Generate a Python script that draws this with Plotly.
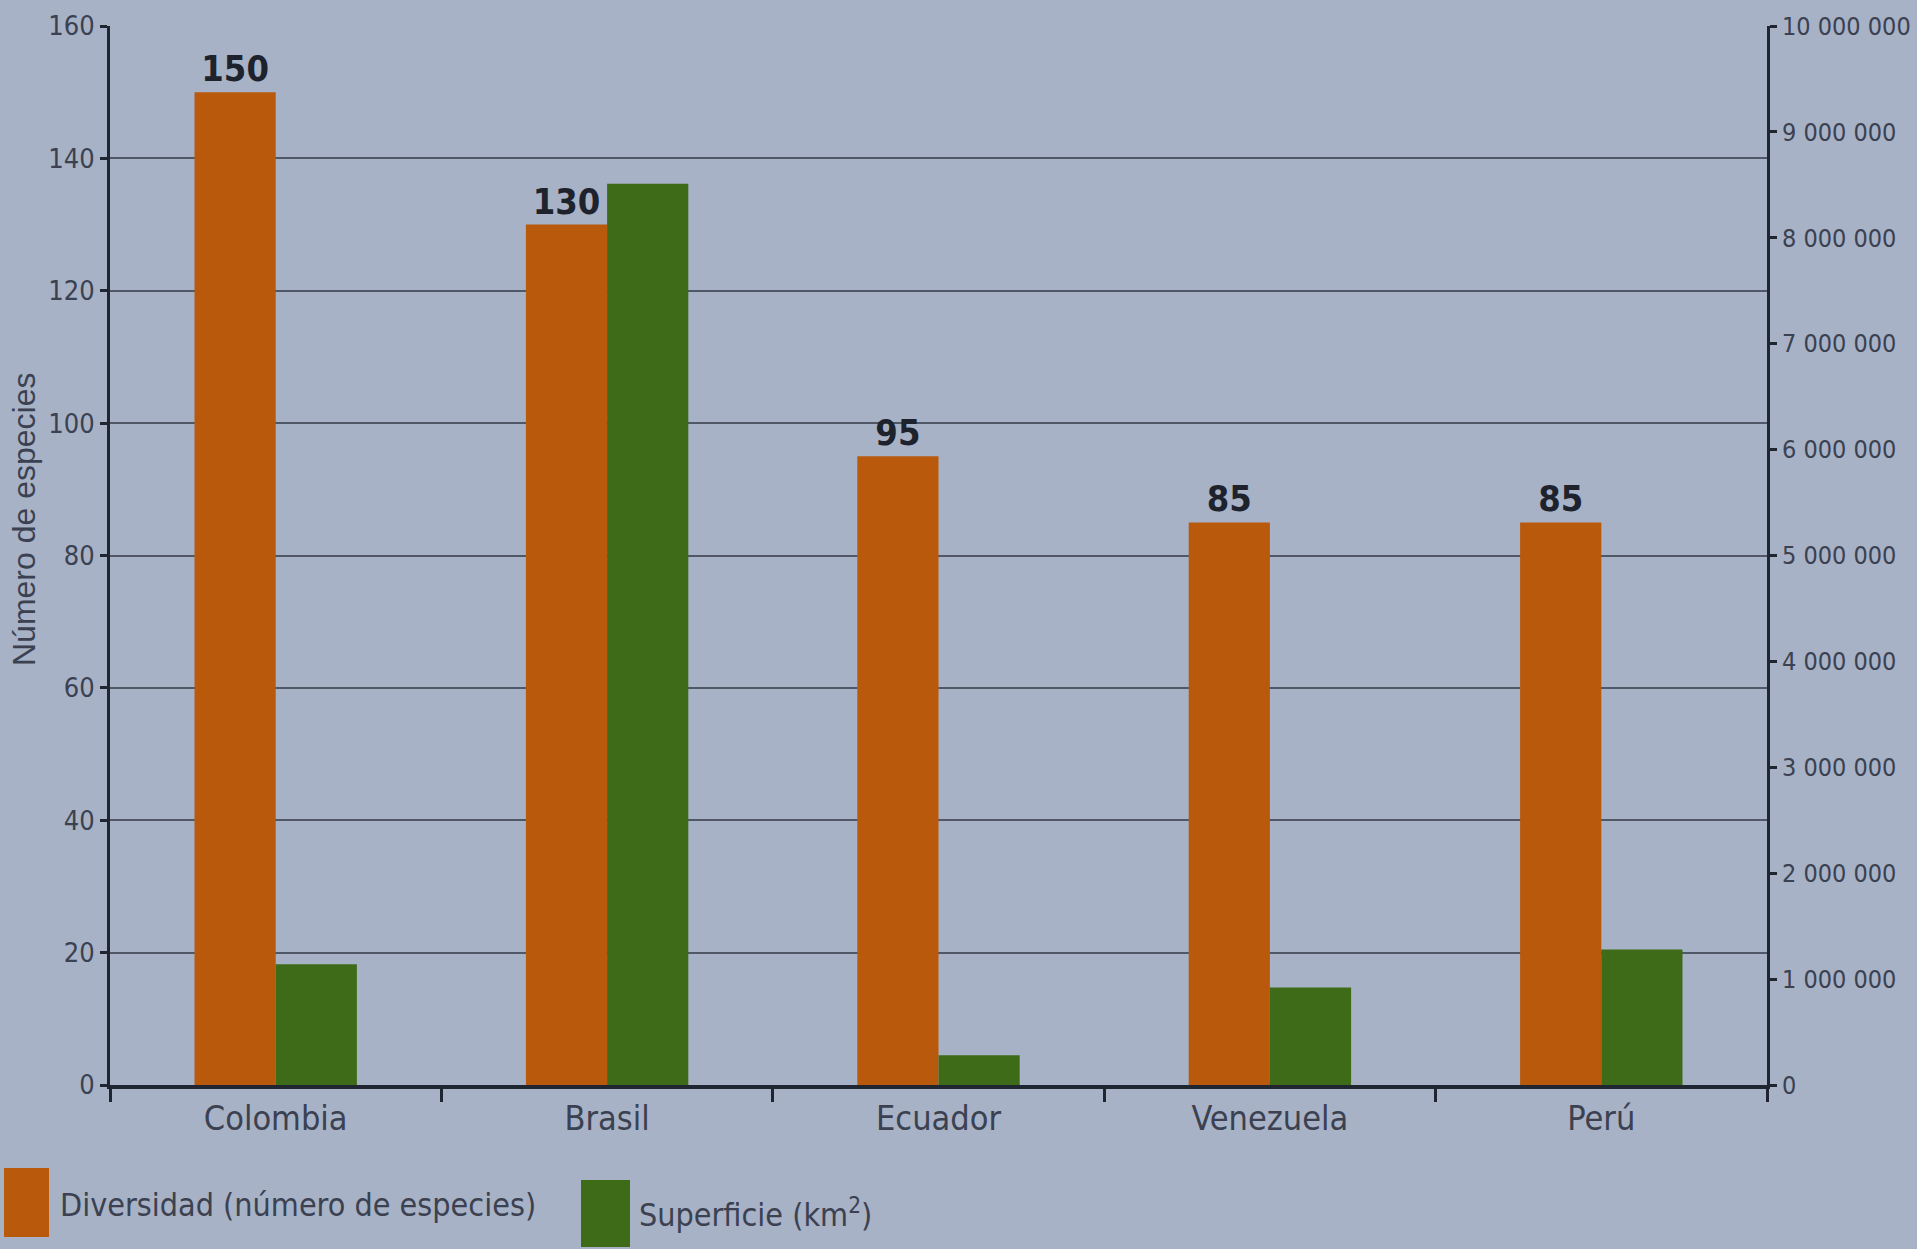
import plotly.graph_objects as go

# ---- data ----
paises = ["Colombia", "Brasil", "Ecuador", "Venezuela", "Perú"]
diversidad = [150, 130, 95, 85, 85]
superficie = [1140000, 8510000, 280000, 920000, 1280000]
ticks_izq = [0, 20, 40, 60, 80, 100, 120, 140, 160]
ticks_der = [0, 1000000, 2000000, 3000000, 4000000, 5000000,
             6000000, 7000000, 8000000, 9000000, 10000000]
titulo_y = "Número de especies"
nombre_div = "Diversidad (número de especies)"
nombre_sup = "Superficie (km<sup>2</sup>)"

# ---- style ----
W, H = 1917, 1249
ML, MR, MT, MB = 110, 150, 26, 164
PW, PH = W - ML - MR, H - MT - MB
NARROW = "DejaVu Sans Condensed, Liberation Sans Narrow, Arial Narrow, sans-serif"
SANS = "Liberation Sans, Arial, sans-serif"
ORANGE = "#b9590c"
GREEN = "#3e6b17"
BG = "#a7b2c6"
AXC = "#1f2531"
GRID = "#505868"
TXT = "#3b4150"


def px_x(p):
    return (p - ML) / PW


def px_y(p):
    return (H - MB - p) / PH


fig = go.Figure()
fig.add_trace(go.Bar(
    x=paises, y=diversidad, name="Diversidad (número de especies)",
    marker=dict(color=ORANGE, line=dict(width=0)),
    width=0.245, offset=-0.245,
    text=[str(v) for v in diversidad], textposition="outside",
    outsidetextfont=dict(family=NARROW, size=36, color="#1d222c", weight="bold"),
    cliponaxis=False, yaxis="y", hoverinfo="x+y",
))
fig.add_trace(go.Bar(
    x=paises, y=superficie, name="Superficie (km²)",
    marker=dict(color=GREEN, line=dict(width=0)),
    width=0.245, offset=0.0, yaxis="y2", hoverinfo="x+y",
))

shapes = [
    dict(type="rect", xref="paper", yref="paper",
         x0=px_x(4), x1=px_x(49), y0=px_y(1237), y1=px_y(1168),
         fillcolor=ORANGE, line=dict(width=0)),
    dict(type="rect", xref="paper", yref="paper",
         x0=px_x(581), x1=px_x(630), y0=px_y(1247), y1=px_y(1180),
         fillcolor=GREEN, line=dict(width=0)),
]
annotations = [
    dict(text=nombre_div, xref="paper", yref="paper", x=px_x(58), y=px_y(1205),
         xanchor="left", yanchor="middle", showarrow=False,
         font=dict(family=NARROW, size=32, color=TXT)),
    dict(text=nombre_sup, xref="paper", yref="paper", x=px_x(637), y=px_y(1213),
         xanchor="left", yanchor="middle", showarrow=False,
         font=dict(family=NARROW, size=32, color=TXT)),
    dict(text=titulo_y, xref="paper", yref="paper", x=px_x(24), y=px_y(520),
         xanchor="center", yanchor="middle", textangle=-90, showarrow=False,
         font=dict(family=SANS, size=32, color=TXT)),
]

fig.update_layout(
    width=W, height=H, autosize=False,
    margin=dict(l=ML, r=MR, t=MT, b=MB),
    paper_bgcolor=BG, plot_bgcolor=BG,
    showlegend=False, separators=". ",
    shapes=shapes, annotations=annotations,
    xaxis=dict(
        type="category", range=[-0.5, 4.5], tickson="boundaries",
        ticks="outside", ticklen=13, tickwidth=3, tickcolor=AXC,
        showline=True, linecolor=AXC, linewidth=4, showgrid=False,
        tickfont=dict(family=NARROW, size=34, color=TXT), automargin=False,
    ),
    yaxis=dict(
        range=[0, 160], tickvals=ticks_izq, ticks="outside", ticklen=7,
        tickwidth=3, tickcolor=AXC, showline=True, linecolor=AXC, linewidth=3,
        showgrid=True, gridcolor=GRID, gridwidth=1.5, zeroline=False,
        tickfont=dict(family=NARROW, size=27, color=TXT), automargin=False,
    ),
    yaxis2=dict(
        overlaying="y", side="right", range=[0, 10000000], tickvals=ticks_der,
        tickformat=",d", ticks="outside", ticklen=7, tickwidth=3, tickcolor=AXC,
        showline=True, linecolor=AXC, linewidth=3, showgrid=False, zeroline=False,
        tickfont=dict(family=NARROW, size=25, color=TXT), automargin=False,
    ),
)

fig.write_html(
    "out.html",
    config={"displayModeBar": False},
    post_script="document.body.style.margin='0';document.body.style.overflow='hidden';",
)
